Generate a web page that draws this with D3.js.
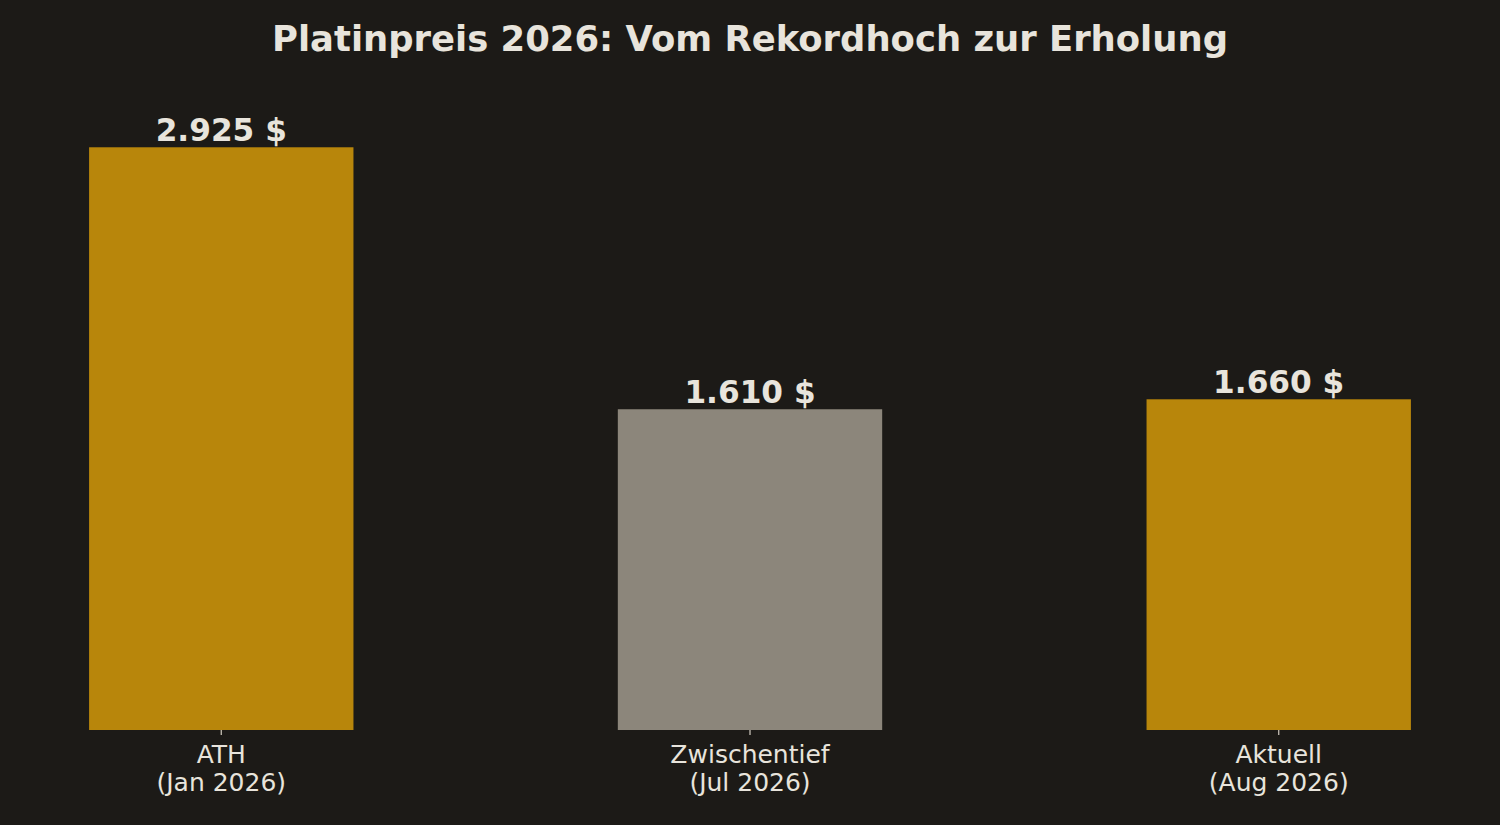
<!DOCTYPE html>
<html>
<head>
<meta charset="utf-8">
<script src="https://cdn.jsdelivr.net/npm/d3@7"></script>
<style>
  body { margin: 0; background: #1c1a17; }
  svg, svg text { font-family: "DejaVu Sans", sans-serif; }
  svg { display: block; }
</style>
</head>
<body>
<script>
// chart data
var categories = ["ATH\n(Jan 2026)", "Zwischentief\n(Jul 2026)", "Aktuell\n(Aug 2026)"];
var prices = [2925, 1610, 1660];
var priceLabels = ["2.925 $", "1.610 $", "1.660 $"];
var barColors = ["#b8860b", "#8c867b", "#b8860b"];

var width = 1500,
    height = 825,
    margin = { top: 89, right: 23, bottom: 95, left: 23 };

var textColor = "#e8e4dc";

var svg = d3.select("body").append("svg")
    .attr("width", width)
    .attr("height", height);

svg.append("rect")
    .attr("width", width)
    .attr("height", height)
    .attr("fill", "#1c1a17");

// scales
var x = d3.scaleBand()
    .domain(categories)
    .range([margin.left, width - margin.right])
    .paddingInner(0.5)
    .paddingOuter(0.125);

var y = d3.scaleLinear()
    .domain([0, 2925 * 1.1])
    .range([height - margin.bottom, margin.top]);

// title
svg.append("text")
    .attr("x", width / 2)
    .attr("y", 51)
    .attr("text-anchor", "middle")
    .attr("fill", textColor)
    .style("font-size", "35.4px")
    .style("font-weight", "bold")
    .text("Platinpreis 2026: Vom Rekordhoch zur Erholung");

// bars
svg.selectAll("rect.bar")
    .data(prices)
    .enter().append("rect")
    .attr("class", "bar")
    .attr("x", function (d, i) { return x(categories[i]); })
    .attr("y", function (d) { return y(d); })
    .attr("width", x.bandwidth())
    .attr("height", function (d) { return y(0) - y(d); })
    .attr("fill", function (d, i) { return barColors[i]; });

// value labels
svg.selectAll("text.value")
    .data(prices)
    .enter().append("text")
    .attr("class", "value")
    .attr("x", function (d, i) { return x(categories[i]) + x.bandwidth() / 2; })
    .attr("y", function (d) { return y(d) - 6.5; })
    .attr("text-anchor", "middle")
    .attr("fill", textColor)
    .style("font-size", "31.2px")
    .style("font-weight", "bold")
    .text(function (d, i) { return priceLabels[i]; });

// x axis
var xAxis = svg.append("g")
    .attr("transform", "translate(0," + y(0) + ")")
    .call(d3.axisBottom(x).tickSize(5).tickPadding(5).tickFormat(""))
    .attr("font-family", null);

xAxis.select(".domain").remove();
xAxis.selectAll(".tick line")
    .attr("stroke", "#c4beb4")
    .attr("stroke-width", 1.3);

xAxis.selectAll(".tick").each(function (d) {
    var lines = d.split("\n");
    var t = d3.select(this).append("text")
        .attr("fill", textColor)
        .attr("text-anchor", "middle")
        .style("font-family", "'DejaVu Sans', sans-serif")
        .style("font-size", "25px");
    lines.forEach(function (line, k) {
        t.append("tspan")
            .attr("x", 0)
            .attr("y", 33 + k * 28)
            .text(line);
    });
});
</script>
</body>
</html>
